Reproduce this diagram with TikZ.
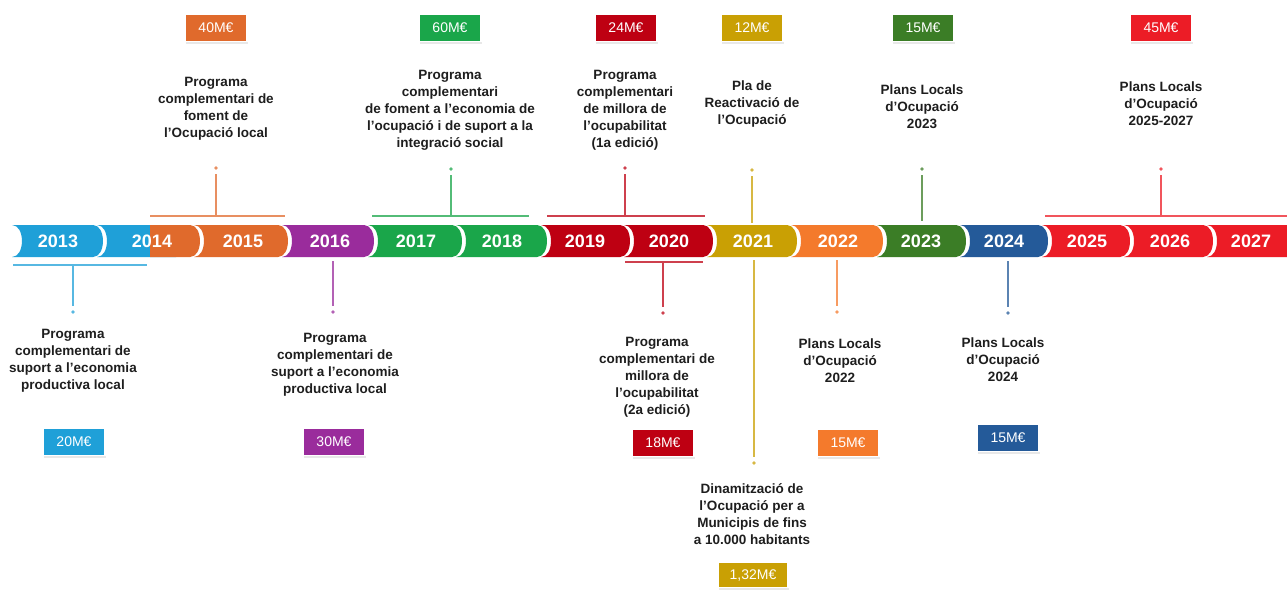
\documentclass[tikz,border=0pt]{standalone}
\usepackage{fontspec}
\setmainfont{Liberation Sans}
\usetikzlibrary{shadows}
\definecolor{cBlue}{HTML}{1FA0D8}
\definecolor{cOrange}{HTML}{E06A2C}
\definecolor{cPurple}{HTML}{9A2C9C}
\definecolor{cGreen}{HTML}{1AA64A}
\definecolor{cDRed}{HTML}{BE0012}
\definecolor{cGold}{HTML}{C9A004}
\definecolor{cOrangeB}{HTML}{F47A2C}
\definecolor{cDGreen}{HTML}{3B7D26}
\definecolor{cNavy}{HTML}{245A99}
\definecolor{cRed}{HTML}{EC1C26}
\definecolor{txt}{HTML}{1E1E1E}
\newcommand\yseg[3]{\fill[#3] (#1,225) -- ({#2-10},225) .. controls ({#2+3.3},225) and ({#2+3.3},257) .. ({#2-10},257) -- (#1,257) .. controls ({#1+13.3},257) and ({#1+13.3},225) .. (#1,225) -- cycle;}
\begin{document}
\begin{tikzpicture}[x=1pt,y=-1pt,
  lbl/.style={align=center, font=\fontsize{13.5}{17}\selectfont\bfseries, text=txt, inner sep=0pt},
  money/.style={fill=#1, draw=white, line width=1.5pt, minimum width=62pt, minimum height=27pt, inner sep=0pt, text=white, font=\fontsize{14}{14}\selectfont, drop shadow={opacity=0.18, shadow xshift=1pt, shadow yshift=-2.5pt}},
  yr/.style={text=white, font=\fontsize{18}{18}\selectfont\bfseries, inner sep=0pt},
  stem/.style={line width=1.3pt, draw=#1!75!white},
  dot/.style={circle, fill=#1!75!white, inner sep=0pt, minimum size=3.6pt},
  ]
\useasboundingbox (0,0) rectangle (1287,589);
\fill[white] (0,0) rectangle (1287,589);

% ---- timeline bar ----
\yseg{12}{103}{cBlue}
\yseg{97}{186}{cBlue}
\fill[cOrange] (150,225) -- (190,225) .. controls (203.3,225) and (203.3,257) .. (190,257) -- (150,257) -- cycle;
\yseg{194}{288}{cOrange}
\yseg{282}{374}{cPurple}
\yseg{368}{462}{cGreen}
\yseg{456}{547}{cGreen}
\yseg{541}{630}{cDRed}
\yseg{624}{713}{cDRed}
\yseg{707}{797}{cGold}
\yseg{791}{883}{cOrangeB}
\yseg{877}{966}{cDGreen}
\yseg{960}{1048}{cNavy}
\yseg{1042}{1130}{cRed}
\yseg{1124}{1213}{cRed}
\yseg{1207}{1297}{cRed}

\node[yr] (y2013) at (58,241) {2013};
\node[yr] (y2014) at (152,241) {2014};
\node[yr] (y2015) at (243,241) {2015};
\node[yr] (y2016) at (330,241) {2016};
\node[yr] (y2017) at (416,241) {2017};
\node[yr] (y2018) at (502,241) {2018};
\node[yr] (y2019) at (585,241) {2019};
\node[yr] (y2020) at (669,241) {2020};
\node[yr] (y2021) at (753,241) {2021};
\node[yr] (y2022) at (838,241) {2022};
\node[yr] (y2023) at (921,241) {2023};
\node[yr] (y2024) at (1004,241) {2024};
\node[yr] (y2025) at (1087,241) {2025};
\node[yr] (y2026) at (1170,241) {2026};
\node[yr] (y2027) at (1251,241) {2027};

% ---- brackets, stems, dots ----
% 2014-2015 top
\coordinate (a1) at (150,216); \coordinate (a2) at (285,216); \coordinate (a3) at (216,216);
\node[dot=cOrange] (d1415) at (216,168) {};
\draw[stem=cOrange] (a1) -- (a2);
\draw[stem=cOrange, shorten <=4pt] (d1415) -- (a3);
% 2013 bottom
\coordinate (b1) at (13,265); \coordinate (b2) at (147,265); \coordinate (b3) at (73,265);
\node[dot=cBlue] (d1314) at (73,312) {};
\draw[stem=cBlue] (b1) -- (b2);
\draw[stem=cBlue, shorten >=4pt] (b3) -- (d1314);
% 2016 bottom
\coordinate (c1) at (333,261);
\node[dot=cPurple] (d16) at (333,312) {};
\draw[stem=cPurple, shorten >=4pt] (c1) -- (d16);
% 2017-2018 top
\coordinate (e1) at (372,216); \coordinate (e2) at (529,216); \coordinate (e3) at (451,216);
\node[dot=cGreen] (d1718) at (451,169) {};
\draw[stem=cGreen] (e1) -- (e2);
\draw[stem=cGreen, shorten <=4pt] (d1718) -- (e3);
% 2019-2020 top
\coordinate (f1) at (547,216); \coordinate (f2) at (705,216); \coordinate (f3) at (625,216);
\node[dot=cDRed] (d1920) at (625,168) {};
\draw[stem=cDRed] (f1) -- (f2);
\draw[stem=cDRed, shorten <=4pt] (d1920) -- (f3);
% 2020 bottom
\coordinate (g1) at (625,262); \coordinate (g2) at (703,262); \coordinate (g3) at (663,262);
\node[dot=cDRed] (d20) at (663,313) {};
\draw[stem=cDRed] (g1) -- (g2);
\draw[stem=cDRed, shorten >=4pt] (g3) -- (d20);
% 2021 top and bottom
\coordinate (h1) at (752,223);
\node[dot=cGold] (d21a) at (752,170) {};
\draw[stem=cGold, shorten <=4pt] (d21a) -- (h1);
\coordinate (h2) at (754,260);
\node[dot=cGold] (d21b) at (754,463) {};
\draw[stem=cGold, shorten >=4pt] (h2) -- (d21b);
% 2022 bottom
\coordinate (i1) at (837,260);
\node[dot=cOrangeB] (d22) at (837,312) {};
\draw[stem=cOrangeB, shorten >=4pt] (i1) -- (d22);
% 2023 top
\coordinate (j1) at (922,221);
\node[dot=cDGreen] (d23) at (922,169) {};
\draw[stem=cDGreen, shorten <=4pt] (d23) -- (j1);
% 2024 bottom
\coordinate (k1) at (1008,261);
\node[dot=cNavy] (d24) at (1008,313) {};
\draw[stem=cNavy, shorten >=4pt] (k1) -- (d24);
% 2025-2027 top
\coordinate (l1) at (1045,216); \coordinate (l2) at (1287,216); \coordinate (l3) at (1161,216);
\node[dot=cRed] (d2527) at (1161,169) {};
\draw[stem=cRed] (l1) -- (l2);
\draw[stem=cRed, shorten <=4pt] (d2527) -- (l3);

% ---- labels ----
\node[lbl] (t1415) at (216,109) {Programa\\complementari de\\foment de\\l'Ocupació local};
\node[lbl] (t1718) at (450,110) {Programa\\complementari\\de foment a l’economia de\\l’ocupació i de suport a la\\integració social};
\node[lbl] (t1920) at (625,110) {Programa\\complementari\\de millora de\\l'ocupabilitat\\(1a edició)};
\node[lbl] (t21a) at (752,104) {Pla de\\Reactivació de\\l'Ocupació};
\node[lbl] (t23) at (922,107) {Plans Locals\\d’Ocupació\\2023};
\node[lbl] (t2527) at (1161,104) {Plans Locals\\d’Ocupació\\2025-2027};
\node[lbl] (t1314) at (73,361) {Programa\\complementari de\\suport a l’economia\\productiva local};
\node[lbl] (t16) at (335,365) {Programa\\complementari de\\suport a l’economia\\productiva local};
\node[lbl] (t20) at (657,377) {Programa\\complementari de\\millora de\\l'ocupabilitat\\(2a edició)};
\node[lbl] (t22) at (840,361) {Plans Locals\\d’Ocupació\\2022};
\node[lbl] (t24) at (1003,360) {Plans Locals\\d’Ocupació\\2024};
\node[lbl] (t21b) at (752,514) {Dinamització de\\l'Ocupació per a\\Municipis de fins\\a 10.000 habitants};

% ---- money boxes ----
\node[money=cOrange] (m40) at (216,28) {40M€};
\node[money=cGreen] (m60) at (450,28) {60M€};
\node[money=cDRed] (m24) at (626,28) {24M€};
\node[money=cGold] (m12) at (752,28) {12M€};
\node[money=cDGreen] (m15a) at (923,28) {15M€};
\node[money=cRed] (m45) at (1161,28) {45M€};
\node[money=cBlue] (m20) at (74,442) {20M€};
\node[money=cPurple] (m30) at (334,442) {30M€};
\node[money=cDRed] (m18) at (663,443) {18M€};
\node[money=cOrangeB] (m15b) at (848,443) {15M€};
\node[money=cNavy] (m15c) at (1008,438) {15M€};
\node[money=cGold, minimum width=70pt, minimum height=25pt] (m132) at (753,575) {1,32M€};
\end{tikzpicture}
\end{document}
